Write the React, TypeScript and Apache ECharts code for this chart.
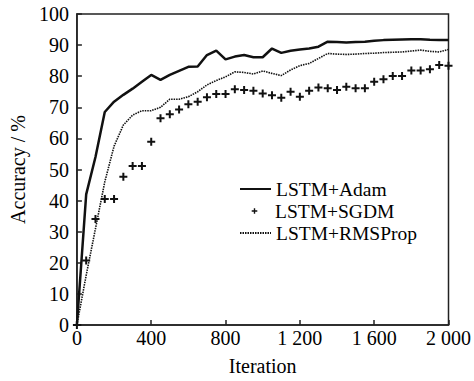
import React, { useEffect, useRef } from "react";
import * as echarts from "echarts";

const iterations = [
  0, 50, 100, 150, 200, 250, 300, 350, 400, 450, 500, 550, 600, 650, 700, 750, 800, 850, 900, 950,
  1000, 1050, 1100, 1150, 1200, 1250, 1300, 1350, 1400, 1450, 1500, 1550, 1600, 1650, 1700, 1750,
  1800, 1850, 1900, 1950, 2000,
];
const adam = [
  0, 42, 54, 68.5, 71.8, 74, 76, 78.2, 80.4, 78.8, 80.4, 81.7, 83, 83.1, 86.8, 88.2, 85.4, 86.3,
  86.8, 86.1, 86.1, 88.9, 87.5, 88.2, 88.6, 88.9, 89.5, 91.1, 91, 90.8, 91, 91.1, 91.4, 91.6, 91.7,
  91.8, 91.9, 91.9, 91.7, 91.6, 91.6,
];
const sgdm = [
  0, 20.7, 34.1, 40.5, 40.5, 47.7, 51.1, 51.1, 58.9, 66.5, 67.8, 69.3, 71, 71.8, 73.2, 74.3, 74.3,
  75.8, 75.6, 75.3, 74.4, 73.9, 73.1, 75, 73.4, 75.3, 76.4, 76.1, 75.6, 76.6, 76.1, 76.1, 78.2, 79,
  80.1, 80.1, 81.8, 81.8, 82.2, 83.6, 83.4,
];
const rmsprop = [
  0, 16, 31, 46, 57.5, 64.3, 67.5, 68.9, 68.9, 70, 72.6, 72.6, 73.4, 75, 77.2, 78.6, 79.8, 81.4,
  81.2, 80.7, 81.7, 80.9, 80.2, 82, 83.4, 84.1, 85.7, 87.3, 87.1, 87, 87.1, 87.3, 87.4, 87.6, 87.7,
  87.8, 88.1, 88.4, 88, 87.8, 88.6,
];
const seriesNames = ["LSTM+Adam", "LSTM+SGDM", "LSTM+RMSProp"];
const xTickLabels: Record<number, string> = {
  0: "0", 400: "400", 800: "800", 1200: "1 200", 1600: "1 600", 2000: "2 000",
};

const FONT = "'Liberation Serif', 'Times New Roman', serif";
const PLUS = "path://M3,0h2v3h3v2h-3v3h-2v-3h-3v-2h3z";

export default function App() {
  const ref = useRef<HTMLDivElement>(null);
  useEffect(() => {
    if (!ref.current) return;
    const chart = echarts.init(ref.current, undefined, { renderer: "svg" });
    const pair = (ys: number[]) => iterations.map((x, i) => [x, ys[i]]);
    const legendText = { fontFamily: FONT, fontSize: 19.5, lineHeight: 20, color: "#000" };
    const rowCenters = [189, 211, 233];
    const mkLegend = (i: number, itemHeight: number, item: any) => ({
      orient: "vertical",
      left: 239,
      top: rowCenters[i] - 10,
      padding: 0,
      itemWidth: 31,
      itemHeight,
      textStyle: legendText,
      data: [item],
    });
    chart.setOption({
      animation: false,
      backgroundColor: "#fff",
      textStyle: { fontFamily: FONT, color: "#000" },
      grid: {
        left: 72, right: 22, top: 14, bottom: 56,
        show: true, borderColor: "#222", borderWidth: 1.5, backgroundColor: "transparent",
      },
      legend: [
        mkLegend(0, 14, { name: seriesNames[0], itemStyle: { opacity: 0 } }),
        mkLegend(1, 7, { name: seriesNames[1] }),
        mkLegend(2, 14, { name: seriesNames[2], itemStyle: { opacity: 0 } }),
      ],
      xAxis: {
        type: "value",
        min: 0,
        max: 2000,
        interval: 400,
        name: "Iteration",
        nameLocation: "middle",
        nameGap: 31,
        nameTextStyle: { fontFamily: FONT, fontSize: 20, color: "#000" },
        axisLine: { lineStyle: { color: "#222", width: 1.5 } },
        axisTick: { inside: true, length: 5, lineStyle: { color: "#222", width: 1.5 } },
        axisLabel: {
          fontFamily: FONT, fontSize: 20, color: "#000", margin: 3,
          formatter: (v: number) => xTickLabels[v] ?? String(v),
        },
        splitLine: { show: false },
      },
      yAxis: {
        type: "value",
        min: 0,
        max: 100,
        interval: 10,
        name: "Accuracy / %",
        nameLocation: "middle",
        nameGap: 47,
        nameTextStyle: { fontFamily: FONT, fontSize: 20, color: "#000" },
        axisLine: { lineStyle: { color: "#222", width: 1.5 } },
        axisTick: { inside: true, length: 5, lineStyle: { color: "#222", width: 1.5 } },
        axisLabel: { fontFamily: FONT, fontSize: 20, color: "#000", margin: 8 },
        splitLine: { show: false },
      },
      series: [
        {
          name: seriesNames[0],
          type: "line",
          data: pair(adam),
          symbol: "none",
          lineStyle: { color: "#111", width: 2.5 },
          itemStyle: { color: "#111" },
        },
        {
          name: seriesNames[1],
          type: "line",
          data: pair(sgdm),
          symbol: PLUS,
          symbolSize: 8,
          showSymbol: true,
          lineStyle: { width: 0, opacity: 0 },
          itemStyle: { color: "#111" },
        },
        {
          name: seriesNames[2],
          type: "line",
          data: pair(rmsprop),
          symbol: "none",
          lineStyle: { color: "#111", width: 1.6, type: [1.5, 1] },
          itemStyle: { color: "#111" },
        },
      ],
    });
    return () => chart.dispose();
  }, []);
  return <div ref={ref} style={{ width: 474, height: 381, position: "absolute", left: 0, top: 0 }} />;
}
